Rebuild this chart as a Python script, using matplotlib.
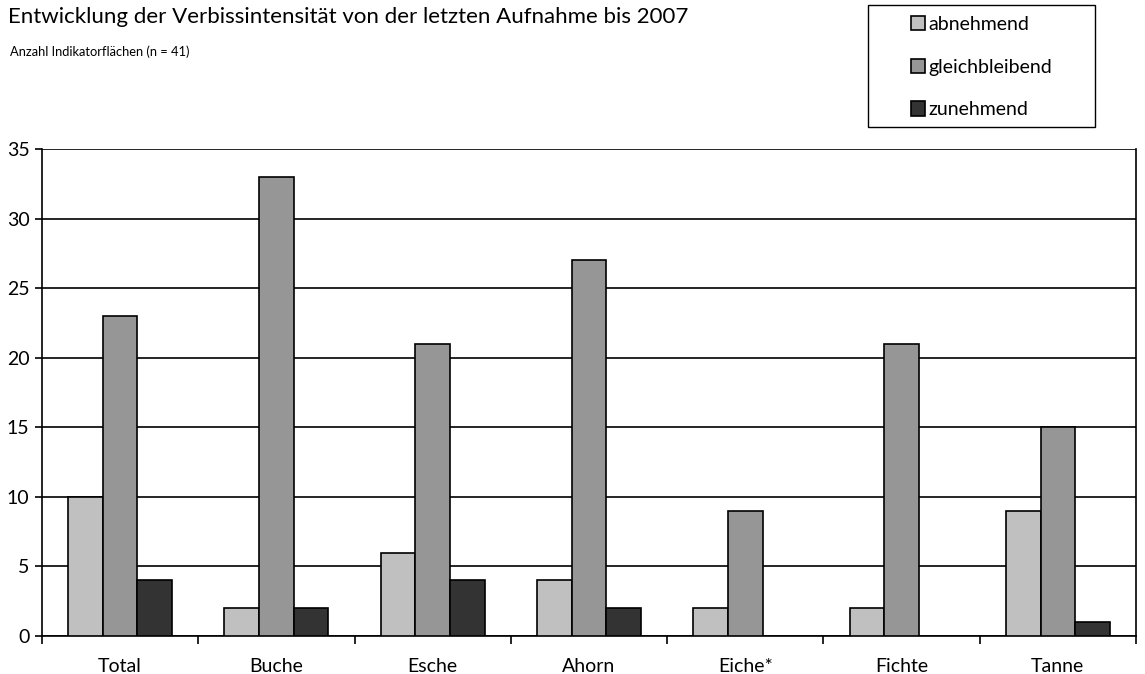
import matplotlib.pyplot as plt
from matplotlib.patches import Rectangle
import numpy as np

plt.rcParams['font.family'] = ['Lato', 'DejaVu Sans']

categories = ['Total', 'Buche', 'Esche', 'Ahorn', 'Eiche*', 'Fichte', 'Tanne']
abnehmend = [10, 2, 6, 4, 2, 2, 9]
gleichbleibend = [23, 33, 21, 27, 9, 21, 15]
zunehmend = [4, 2, 4, 2, 0, 0, 1]
series_names = ['abnehmend', 'gleichbleibend', 'zunehmend']
colors = ['#C0C0C0', '#969696', '#333333']

W, H = 1145, 674
fig = plt.figure(figsize=(W / 100, H / 100), dpi=100)
ax = fig.add_axes([42 / W, 1 - 636 / H, (1136 - 42) / W, (636 - 149) / H])

x = np.arange(len(categories))
w = 0.222
for i, (vals, name, c) in enumerate(zip([abnehmend, gleichbleibend, zunehmend], series_names, colors)):
    v = np.array(vals, dtype=float)
    mask = v > 0
    ax.bar(x[mask] + (i - 1) * w, v[mask], width=w, color=c, edgecolor='black',
           linewidth=1.2, label=name, zorder=3)

ax.set_xlim(-0.5, len(categories) - 0.5)
ax.set_ylim(0, 35)
ax.set_yticks(range(0, 36, 5))
ax.yaxis.grid(True, color='black', linewidth=1.2, zorder=0)
ax.set_xticks(np.arange(-0.5, len(categories), 1.0))
ax.set_xticklabels([])
ax.set_xticks(x, minor=True)
ax.set_xticklabels(categories, minor=True, fontsize=14)
ax.tick_params(axis='x', which='minor', length=0, pad=16)
ax.tick_params(axis='x', which='major', length=6, width=1.2, direction='out')
ax.tick_params(axis='y', length=5, width=1.2, direction='out', labelsize=14, pad=4)
for s in ['left', 'bottom', 'right']:
    ax.spines[s].set_linewidth(1.2)
ax.spines['top'].set_visible(False)

fig.text(8 / W, 1 - 17 / H, 'Entwicklung der Verbissintensität von der letzten Aufnahme bis 2007',
         fontsize=16, va='center', ha='left')
fig.text(10 / W, 1 - 52 / H, 'Anzahl Indikatorflächen (n = 41)', fontsize=9.3, va='center', ha='left')

fig.patches.append(Rectangle((868 / W, 1 - 127 / H), (1095 - 868) / W, (127 - 5) / H,
                             transform=fig.transFigure, facecolor='white', edgecolor='black',
                             linewidth=1.0))
leg = fig.legend(loc='upper left', bbox_to_anchor=(907 / W, 1 - 12 / H), fontsize=14,
                 frameon=False, handlelength=0.75, handleheight=0.75, handletextpad=0.15,
                 labelspacing=1.32, borderpad=0.2, borderaxespad=0)

fig.savefig('out.png', dpi=100)
